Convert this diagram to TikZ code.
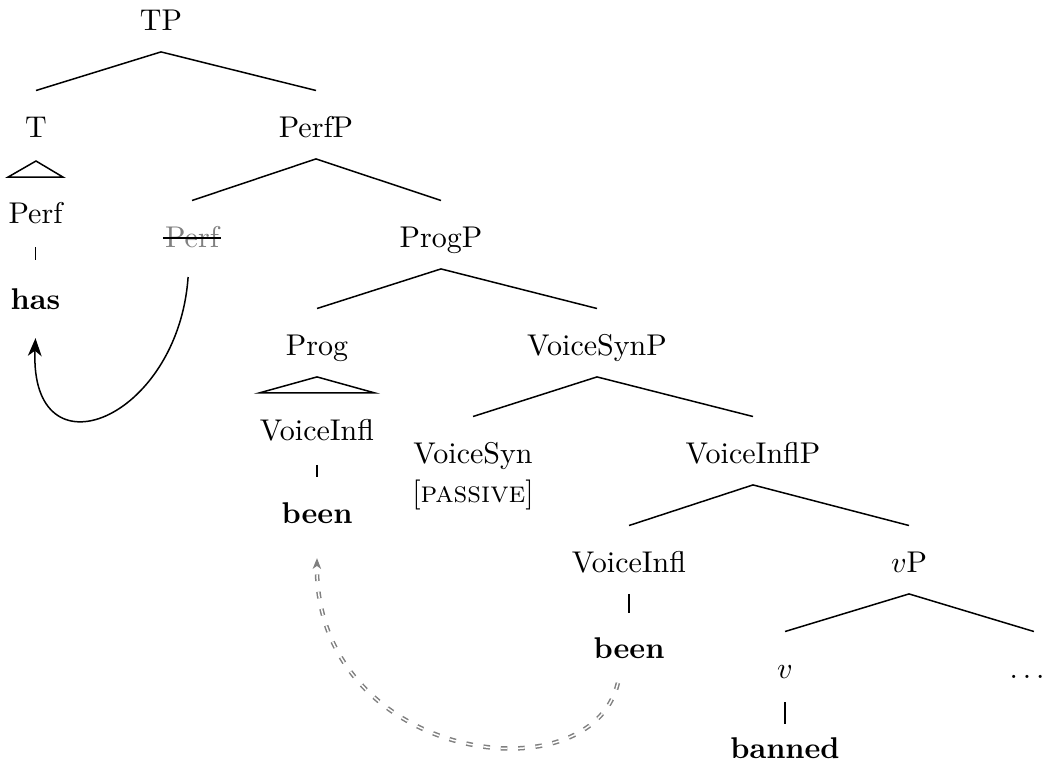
\documentclass[tikz,border=0pt]{standalone}
\usetikzlibrary{arrows.meta}
\newcommand\treeedge[2]{\draw[tline] ([yshift=-7.3pt]#1.base) -- ([yshift=15.5pt]#2.base);}
\begin{document}
\begin{tikzpicture}[x=0.33333pt, y=-0.33333pt,
  lbl/.style={anchor=base, inner sep=0pt},
  tline/.style={line width=0.5pt},
  mover/.style={line width=0.5pt, -{Stealth[length=6pt,width=4.6pt,inset=1.8pt]}},
  tracer/.style={gray, line width=0.5pt, double distance=0.5pt, dash pattern=on 2.2pt off 3.6pt, -{Stealth[length=3.6pt,width=2.8pt,inset=1pt]}}]
\useasboundingbox (0,0) rectangle (1044,767);
\node[lbl] (tp) at (161,30) {TP};
\node[lbl] (t) at (36,137) {T};
\node[lbl] (perfp) at (316,137) {PerfP};
\node[lbl] (perfa) at (35.5,223) {Perf};
\node[lbl] (has) at (35.5,309) {\textbf{has}};
\node[lbl, text=gray] (perfs) at (192,247) {Perf};
\node[lbl] (progp) at (441,247) {ProgP};
\node[lbl] (prog) at (317,355) {Prog};
\node[lbl] (vsynp) at (597,355) {VoiceSynP};
\node[lbl] (vinfa) at (317,440) {VoiceInfl};
\node[lbl] (beena) at (317,523) {\textbf{been}};
\node[lbl] (vsyn) at (473,463) {VoiceSyn};
\node[lbl] (vfeat) at (473,502) {[\textsc{passive}]};
\node[lbl] (vinflp) at (753,463) {VoiceInflP};
\node[lbl] (vinfb) at (629,572) {VoiceInfl};
\node[lbl] (beenb) at (629,658) {\textbf{been}};
\node[lbl] (vp) at (909,572) {$v$P};
\node[lbl] (v) at (785,678) {$v$};
\node[lbl] (dots) at (1027,678) {$\ldots$};
\node[lbl] (banned) at (785,758) {\textbf{banned}};
% tree edges
\treeedge{tp}{t}
\treeedge{tp}{perfp}
\treeedge{perfp}{perfs}
\treeedge{perfp}{progp}
\treeedge{progp}{prog}
\treeedge{progp}{vsynp}
\treeedge{vsynp}{vsyn}
\treeedge{vsynp}{vinflp}
\treeedge{vinflp}{vinfb}
\treeedge{vinflp}{vp}
\treeedge{vp}{v}
\draw[tline] ([yshift=-7.3pt]vp.base) -- ([xshift=2.3pt,yshift=15.5pt]dots.base);
% triangles
\draw[tline] ([yshift=-8pt]t.base) -- ([yshift=15.3pt]perfa.base west) -- ([yshift=15.3pt]perfa.base east) -- cycle;
\draw[tline] ([yshift=-7.3pt]prog.base) -- ([yshift=15.7pt]vinfa.base west) -- ([yshift=15.7pt]vinfa.base east) -- cycle;
% unary lines
\draw[tline] ([yshift=-8pt]perfa.base) -- ([yshift=16.3pt]has.base);
\draw[tline] ([yshift=-8.3pt]vinfa.base) -- ([yshift=15.3pt]beena.base);
\draw[tline] ([yshift=-7.3pt]vinfb.base) -- ([yshift=15pt]beenb.base);
\draw[tline] ([yshift=-8pt]v.base) -- ([yshift=11.3pt]banned.base);
% strike-through
\draw[line width=0.6pt] ([xshift=-0.5pt,yshift=2.9pt]perfs.base west) -- ([xshift=0.5pt,yshift=2.9pt]perfs.base east);
% movement arrows
\draw[mover] ([xshift=-1.3pt,yshift=-10pt]perfs.base) .. controls +(-10,143) and +(-6,142) .. ([yshift=-9.7pt]has.base);
\draw[tracer] ([xshift=-3.7pt,yshift=-8.3pt]beenb.base) .. controls +(-28,117) and +(-2,202) .. ([yshift=-11.7pt]beena.base);
\end{tikzpicture}
\end{document}
